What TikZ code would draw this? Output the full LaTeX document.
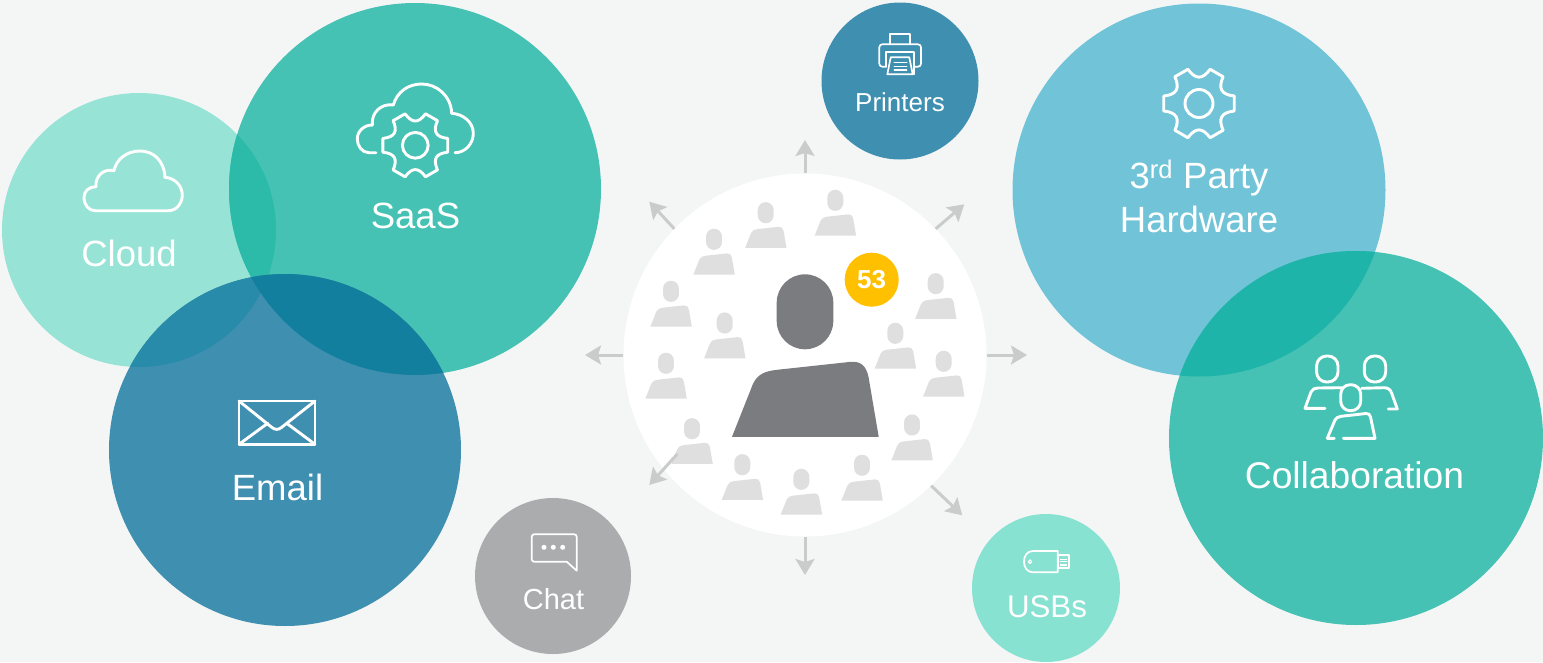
\documentclass[tikz,border=0pt]{standalone}
\usepackage{fontspec}
\setmainfont{Liberation Sans}
\usetikzlibrary{arrows.meta}
\definecolor{backcol}{HTML}{F4F6F6}
\definecolor{mintcol}{HTML}{97E4D6}
\definecolor{tealcol}{HTML}{45C2B3}
\definecolor{bluecol}{HTML}{3F8FB0}
\definecolor{skycol}{HTML}{71C4D8}
\definecolor{usbcol}{HTML}{88E2D2}
\definecolor{chatcol}{HTML}{ABACAE}
\definecolor{arrowcol}{HTML}{C9CCCB}
\definecolor{lightperson}{HTML}{DFDFE0}
\definecolor{darkperson}{HTML}{7B7C80}
\definecolor{badgecol}{HTML}{FFC000}
\begin{document}
\begin{tikzpicture}[x=1pt,y=-1pt,
		bubble/.style={circle,inner sep=0pt,minimum size=#1},
		label/.style={anchor=base,text=white,inner sep=0pt,font=\fontsize{36.5}{40}\selectfont},
		icon/.style={draw=white,line width=2.9pt,line cap=round,line join=round},
		smallicon/.style={draw=white,line width=1.7pt,line cap=round,line join=round},
		spoke/.style={draw=arrowcol,line width=3pt,-{Stealth[length=16pt,width=19pt,inset=3pt]}},
		person/.pic={
			\fill[#1] (-28.3,9.2) -- (-28.3,-9.2) .. controls (-28.3,-24.8) and (-15.6,-37.5) .. (0,-37.5) .. controls (15.6,-37.5) and (28.3,-24.8) .. (28.3,-9.2) -- (28.3,9.2) .. controls (28.3,24.8) and (15.6,37.5) .. (0,37.5) .. controls (-15.6,37.5) and (-28.3,24.8) .. (-28.3,9.2) -- cycle;
			\fill[#1] (-73,125) -- (-52,72) .. controls (-47,62) and (-40,59.5) .. (-28,58) -- (46,50) .. controls (56,49.5) and (61,54) .. (63.5,65) -- (73.7,125) -- cycle;
		},
		gear/.pic={
			\foreach \a in {0,60,...,300}
				\draw[icon] (\a-12:36) -- (\a+12:36) .. controls (\a+22:24) and (\a+38:24) .. (\a+48:36);
			\draw[icon] (0,0) circle (14);
		}]
	\useasboundingbox (0,0) rectangle (1543,662);
	\fill[backcol] (0,0) rectangle (1543,662);
	\node [bubble=274pt,fill=mintcol] (cloud) at (139,230) {};
	\node [bubble=372pt,fill=tealcol] (saas) at (415,189) {};
	\begin{scope}
		\clip (cloud.center) circle (137);
		\fill[fill={rgb,255:red,43;green,187;blue,168}] (saas.center) circle (186);
	\end{scope}
	\node [bubble=352pt,fill=bluecol] (email) at (285,450) {};
	\begin{scope}
		\clip (email.center) circle (176);
		\fill[fill={rgb,255:red,40;green,139;blue,169}] (cloud.center) circle (137);
		\fill[fill={rgb,255:red,18;green,127;blue,158}] (saas.center) circle (186);
	\end{scope}
	\node [bubble=156pt,fill=chatcol] (chat) at (553,576) {};
	\node [bubble=157pt,fill=bluecol] (printers) at (900,81) {};
	\node [bubble=148pt,fill=usbcol] (usbs) at (1046,588) {};
	\node [bubble=373pt,fill=skycol] (party) at (1199,190) {};
	\node [bubble=374pt,fill=tealcol] (collab) at (1356,438) {};
	\begin{scope}
		\clip (party.center) circle (186.5);
		\fill[fill={rgb,255:red,31;green,180;blue,170}] (collab.center) circle (187);
	\end{scope}
	\node [bubble=363pt,fill=white] (hub) at (805,355) {};
	\foreach \x/\y in {835.3/200.3,765.7/212.7,714/239.3,671/291.3,724.7/323,666/363.3,692/428.7,742.3/464.7,801.3/479.3,862/465.3,912/425,895.3/333.3,943.7/361.3,935.7/283.7}
		\pic[scale=.282] at (\x,\y) {person=lightperson};
	\pic at (805,311.8) {person=darkperson};
	\node [bubble=54pt,fill=badgecol,text=white,font=\fontsize{26}{26}\selectfont\bfseries] (badge) at (871.7,279.7) {53};
	\coordinate (nend) at (805,140);
	\coordinate (neend) at (964.3,204.3);
	\coordinate (eend) at (1027,355);
	\coordinate (seend) at (962.3,515.3);
	\coordinate (send) at (805,575);
	\coordinate (swstart) at (677.3,454);
	\coordinate (swend) at (649.3,485);
	\coordinate (wend) at (585,355);
	\coordinate (nwend) at (649.3,201.7);
	\draw[spoke] (hub.90) -- (nend);
	\draw[spoke] (hub.44) -- (neend);
	\draw[spoke] (hub.0) -- (eend);
	\draw[spoke] (hub.-46) -- (seend);
	\draw[spoke] (hub.-90) -- (send);
	\draw[spoke] (swstart) -- (swend);
	\draw[spoke] (hub.180) -- (wend);
	\draw[spoke] (hub.136) -- (nwend);
	\node [label] (cloudtext) at (129,266) {Cloud};
	\node [label] (saastext) at (415.5,228) {SaaS};
	\node [label] (emailtext) at (277.5,500) {Email};
	\node [label,font=\fontsize{29}{32}\selectfont] (chattext) at (553.5,609) {Chat};
	\node [label,font=\fontsize{26}{30}\selectfont] (printerstext) at (900,111) {Printers};
	\node [label,font=\fontsize{31.3}{34}\selectfont] (usbstext) at (1047,617) {USBs};
	\node [label] (partytext) at (1199,188) {3\textsuperscript{rd} Party};
	\node [label] (hardwaretext) at (1199,232) {Hardware};
	\node [label,font=\fontsize{37.2}{40}\selectfont] (collabtext) at (1354.5,488) {Collaboration};
	\draw[icon] (95,210.7) -- (168.3,210.7) .. controls (176,210.7) and (182.3,204) .. (182.3,195) .. controls (182.3,186) and (175,178) .. (165,177.3);
	\draw[icon] (165,177.3) .. controls (164,160) and (153,151) .. (140,151) .. controls (126,151) and (116,160) .. (114,170.7);
	\draw[icon] (114,170.7) .. controls (103,168) and (95,177) .. (96,186.7);
	\draw[icon] (96,186.7) .. controls (89,186.7) and (84,191) .. (84,197.5) .. controls (84,205) and (89,210.7) .. (95,210.7);
	\pic[scale=.92] at (415.3,145.3) {gear};
	\draw[icon] (376,152.7) -- (369,152.7) .. controls (362,152.7) and (357.3,146) .. (357.3,139) .. controls (357.3,131) and (364,125) .. (372.3,125);
	\draw[icon] (372.3,125) .. controls (371,113) and (381,103) .. (393.3,105);
	\draw[icon] (393.3,105) .. controls (397,92) and (408,84) .. (421.7,84) .. controls (437,84) and (451,96) .. (451.7,113.3);
	\draw[icon] (451.7,113.3) .. controls (463,114) and (473.3,122) .. (473.3,133.3) .. controls (473.3,144) and (465,152.7) .. (455,152.7);
	\draw[icon] (239,401) rectangle (315,444.3);
	\draw[icon] (239,401) -- (271.7,427.3) .. controls (275,430) and (278.5,430) .. (281.7,427.3) -- (315,401);
	\draw[icon] (239,444.3) -- (267.7,423.3);
	\draw[icon] (315,444.3) -- (286.7,423.3);
	\pic at (1199,103.5) {gear};
	\draw[icon,rounded corners=10pt] (1316.6,356) rectangle (1338,382);
	\draw[icon,rounded corners=10pt] (1364.3,356) rectangle (1385.7,382);
	\draw[icon,rounded corners=9.5pt] (1340.7,384.7) rectangle (1360.7,410.7);
	\draw[icon] (1325,408.3) -- (1305,408.3) -- (1311,392) .. controls (1312,389) and (1315,388) .. (1318,388) -- (1341.7,387.7);
	\draw[icon] (1361.7,388.3) -- (1384,387.7) .. controls (1388,387.7) and (1390.5,389.5) .. (1391.7,393.3) -- (1397.3,409) -- (1388.3,409);
	\draw[icon] (1343.3,438.3) -- (1375,438.3) -- (1370.5,417) .. controls (1370,414.5) and (1368.5,413.3) .. (1366,413.5) -- (1341,416.3) .. controls (1338,416.7) and (1336,418) .. (1335,420) -- (1327.3,438.3) -- (1334.3,438.3);
	\draw[smallicon] (1033,551) -- (1057.7,551) -- (1057.7,572.3) -- (1033,572.3) .. controls (1027,572.3) and (1024,567) .. (1024,561.7) .. controls (1024,556) and (1027,551) .. (1033,551);
	\draw[smallicon] (1057.7,555) rectangle (1069.3,568.3);
	\draw[smallicon,line width=1.2pt] (1060.5,559.3) -- (1066.5,559.3) (1060.5,561.7) -- (1066.5,561.7) (1060.5,565) -- (1066.5,565);
	\draw[smallicon,line width=1.2pt] (1030,561.7) circle (1.8);
	\draw[smallicon] (890,44.3) -- (890,34.3) -- (910,34.3) -- (910,44.3);
	\draw[smallicon,rounded corners=3pt] (886,66.7) -- (879.3,66.7) -- (879.3,44.3) -- (921,44.3) -- (921,66.7) -- (914.3,66.7);
	\draw[smallicon] (886,66.7) -- (886,52.3) -- (914.3,52.3) -- (914.3,74.3);
	\draw[smallicon] (890.7,57.3) -- (909.3,57.3) -- (912.7,74.3) -- (887.3,74.3) -- cycle;
	\draw[smallicon,line width=1.3pt] (894.3,62.3) -- (906.7,62.3) (894.3,66.3) -- (906.7,66.3) (894.3,70) -- (906.7,70);
	\draw[smallicon,rounded corners=2.5pt] (566.7,561.7) -- (531.7,561.7) -- (531.7,534.3) -- (576.7,534.3) -- (576.7,552);
	\draw[smallicon] (576.7,552) -- (576.7,570.7) -- (566.7,561.7);
	\foreach \x in {544,553.3,562.7}
		\fill[white] (\x,547.3) circle (2.5);
\end{tikzpicture}
\end{document}
